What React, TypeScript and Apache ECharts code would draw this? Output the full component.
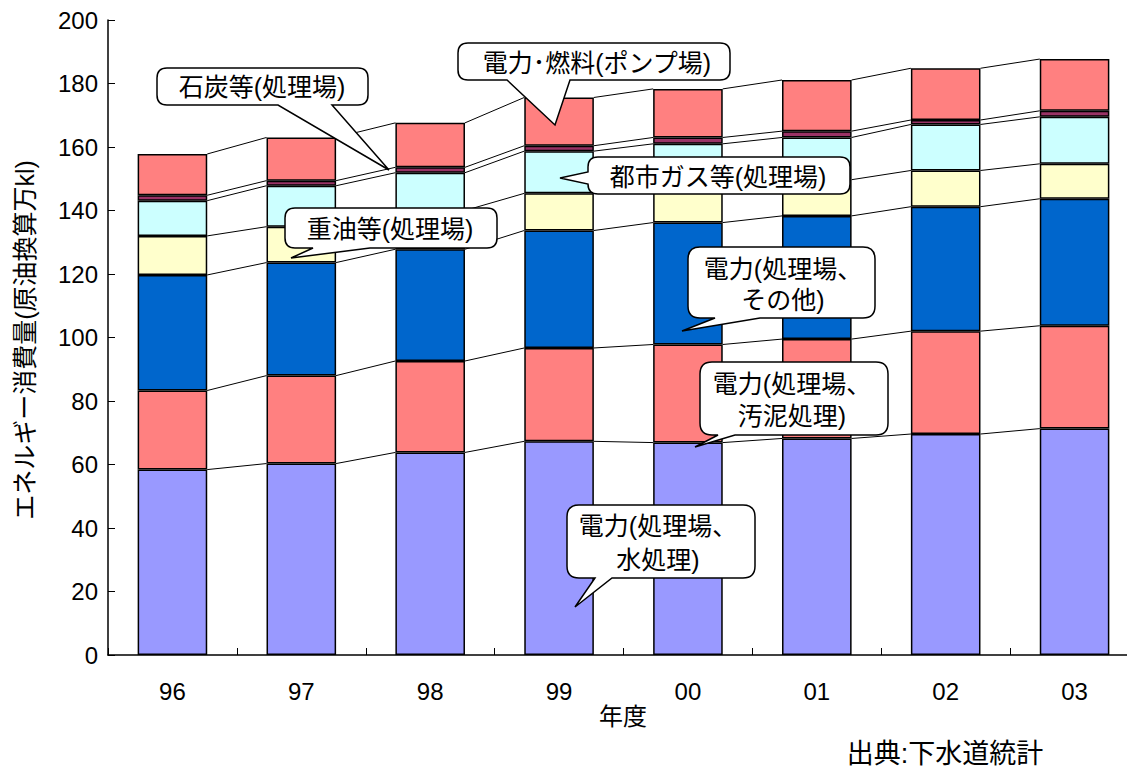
import React, { useEffect, useRef } from "react";
import * as echarts from "echarts";

const categories = ["96", "97", "98", "99", "00", "01", "02", "03"];
const waterTreatment = [58.4, 60.3, 63.8, 67.3, 66.9, 68.2, 69.6, 71.3];
const sludge = [24.9, 27.7, 28.8, 29.4, 30.9, 31.3, 32.4, 32.4];
const otherPower = [36.4, 35.6, 35.2, 37.0, 38.4, 38.8, 39.2, 40.0];
const heavyOil = [12.3, 11.3, 12.2, 11.7, 11.3, 11.4, 11.4, 11.0];
const cityGas = [11.1, 12.9, 11.9, 13.3, 13.5, 13.3, 14.5, 14.8];
const coal = [1.7, 1.6, 1.7, 1.7, 2.0, 2.0, 1.4, 1.9];
const pumpStation = [13.0, 13.6, 14.0, 15.2, 15.3, 16.1, 16.3, 16.3];

const seriesNames = ["電力(処理場、水処理)", "電力(処理場、汚泥処理)", "電力(処理場、その他)", "重油等(処理場)", "都市ガス等(処理場)", "石炭等(処理場)", "電力・燃料(ポンプ場)"];
const seriesValues = [waterTreatment, sludge, otherPower, heavyOil, cityGas, coal, pumpStation];
const seriesColors = ["#9999FF", "#FF8080", "#0066CC", "#FFFFCC", "#CCFFFF", "#993366", "#FF8080"];

const FONT = "'Liberation Sans','Noto Sans CJK JP',sans-serif";
const BAR_RATIO = 0.54;

function bubbleBottom(x0: number, y0: number, x1: number, y1: number, r: number, a: number, b: number, tx: number, ty: number) {
  return `M${x0 + r} ${y0} L${x1 - r} ${y0} Q${x1} ${y0} ${x1} ${y0 + r} L${x1} ${y1 - r} Q${x1} ${y1} ${x1 - r} ${y1} L${b} ${y1} L${tx} ${ty} L${a} ${y1} L${x0 + r} ${y1} Q${x0} ${y1} ${x0} ${y1 - r} L${x0} ${y0 + r} Q${x0} ${y0} ${x0 + r} ${y0} Z`;
}
function bubbleLeft(x0: number, y0: number, x1: number, y1: number, r: number, a: number, b: number, tx: number, ty: number) {
  return `M${x0 + r} ${y0} L${x1 - r} ${y0} Q${x1} ${y0} ${x1} ${y0 + r} L${x1} ${y1 - r} Q${x1} ${y1} ${x1 - r} ${y1} L${x0 + r} ${y1} Q${x0} ${y1} ${x0} ${y1 - r} L${x0} ${b} L${tx} ${ty} L${x0} ${a} L${x0} ${y0 + r} Q${x0} ${y0} ${x0 + r} ${y0} Z`;
}

const callouts = [
  { name: "co1", d: bubbleBottom(157, 68, 368, 105, 10, 278, 332, 389, 170), text: "石炭等(処理場)", tx: 262, ty: 87, lh: 30 },
  { name: "co2", d: bubbleBottom(458, 43, 730, 80, 10, 507, 570, 555, 125), text: "電力･燃料(ポンプ場)", tx: 597, ty: 63, lh: 30 },
  { name: "co3", d: bubbleBottom(285, 208, 497, 248, 10, 313, 370, 291, 258), text: "重油等(処理場)", tx: 390, ty: 229, lh: 30 },
  { name: "co4", d: bubbleLeft(588, 157, 850, 194, 10, 172, 184, 560, 178), text: "都市ガス等(処理場)", tx: 718, ty: 177, lh: 30 },
  { name: "co5", d: bubbleBottom(688, 247, 875, 318, 12, 715, 760, 682, 331), text: "電力(処理場、\nその他)", tx: 783, ty: 284, lh: 31 },
  { name: "co6", d: bubbleBottom(700, 362, 888, 435, 12, 718, 735, 695, 447), text: "電力(処理場、\n汚泥処理)", tx: 792, ty: 400, lh: 32 },
  { name: "co7", d: bubbleBottom(567, 505, 755, 578, 12, 595, 612, 575, 607), text: "電力(処理場、\n水処理)", tx: 658, ty: 543, lh: 34 },
];

callouts.forEach((c) => {
  echarts.graphic.registerShape(c.name, echarts.graphic.extendPath(c.d, {}) as any);
});

export default function App() {
  const ref = useRef<HTMLDivElement>(null);
  useEffect(() => {
    if (!ref.current) return;
    const chart = echarts.init(ref.current, null, { renderer: "svg" });

    const cum: number[][] = [];
    let running = categories.map(() => 0);
    seriesValues.forEach((vals) => {
      running = running.map((r, i) => r + vals[i]);
      cum.push(running.slice());
    });

    const barSeries = seriesValues.map((vals, k) => ({
      name: seriesNames[k],
      type: "bar",
      stack: "total",
      barWidth: `${BAR_RATIO * 100}%`,
      data: vals,
      itemStyle: { color: seriesColors[k], borderColor: "#000", borderWidth: 1.5 },
      z: 3,
    }));

    const connectorSeries = {
      type: "custom",
      z: 2,
      silent: true,
      data: categories.slice(0, -1).map((_, i) => [i]),
      renderItem: (params: any, api: any) => {
        const i = api.value(0);
        const band = api.size([1, 0])[0];
        const half = (band * BAR_RATIO) / 2;
        const children: any[] = [];
        cum.forEach((level) => {
          const p1 = api.coord([i, level[i]]);
          const p2 = api.coord([i + 1, level[i + 1]]);
          children.push({
            type: "line",
            shape: { x1: p1[0] + half, y1: p1[1], x2: p2[0] - half, y2: p2[1] },
            style: { stroke: "#000", lineWidth: 1 },
          });
        });
        return { type: "group", children };
      },
    };

    const txt = (text: string, x: number, y: number, fontSize: number, extra: any = {}) => ({
      type: "text",
      x,
      y,
      ...extra,
      style: {
        text,
        fill: "#000",
        fontSize,
        fontFamily: FONT,
        align: "center",
        verticalAlign: "middle",
        textAlign: "center",
        textVerticalAlign: "middle",
        ...(extra.style || {}),
      },
    });

    const graphics: any[] = [];
    callouts.forEach((c) => {
      graphics.push({
        type: c.name,
        x: 0,
        y: 0,
        z: 100,
        style: { fill: "#fff", stroke: "#000", lineWidth: 1.5 },
      });
      graphics.push(txt(c.text, c.tx, c.ty, 25, { z: 101, style: { lineHeight: c.lh } }));
    });
    graphics.push(txt("エネルギー消費量(原油換算万kl)", 25, 340, 25, { rotation: Math.PI / 2 }));
    graphics.push(txt("年度", 623, 716, 24));
    graphics.push(txt("出典:下水道統計", 945, 754, 27));

    chart.setOption({
      animation: false,
      backgroundColor: "#fff",
      grid: { left: 108, right: 0, top: 20, bottom: 117, containLabel: false },
      xAxis: {
        type: "category",
        data: categories,
        axisLine: { lineStyle: { color: "#000", width: 1.5 } },
        axisTick: { show: true, inside: true, length: 7, lineStyle: { color: "#000" } },
        axisLabel: { color: "#000", fontSize: 24, fontFamily: FONT, margin: 24 },
        splitLine: { show: false },
      },
      yAxis: {
        type: "value",
        min: 0,
        max: 200,
        interval: 20,
        axisLine: { show: true, lineStyle: { color: "#000", width: 1.5 } },
        axisTick: { show: true, inside: true, length: 7, lineStyle: { color: "#000" } },
        axisLabel: { color: "#000", fontSize: 24, fontFamily: FONT, margin: 10 },
        splitLine: { show: false },
      },
      series: [...barSeries, connectorSeries],
      graphic: graphics,
    });

    return () => chart.dispose();
  }, []);
  return (
    <div style={{ position: "absolute", left: 0, top: 0, width: 1127, height: 772, overflow: "hidden" }}>
      <div ref={ref} style={{ width: 1139, height: 772 }} />
    </div>
  );
}
